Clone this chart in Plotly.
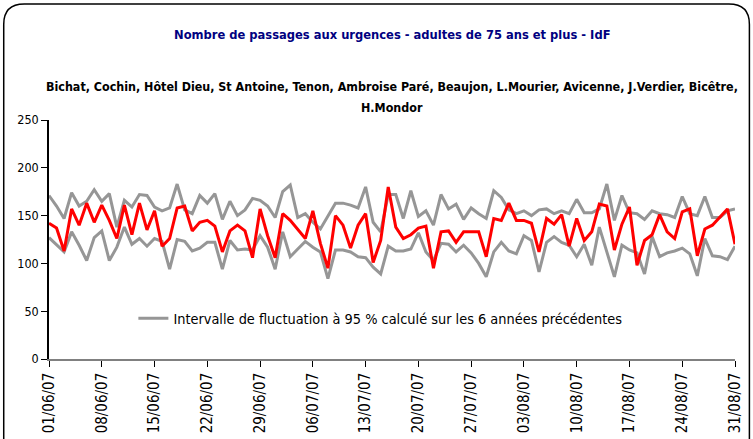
import plotly.graph_objects as go
import pandas as pd

# daily dates 01/06/2007 -> 31/08/2007
dates = pd.date_range("2007-06-01", "2007-08-31", freq="D")

passages = [142, 137, 113, 157, 140, 163, 143, 161, 145, 126,
            161, 130, 163, 135, 155, 118, 126, 158, 160, 134,
            143, 145, 139, 112, 134, 140, 134, 106, 157, 129,
            106, 152, 145, 135, 126, 155, 121, 95, 150, 140,
            116, 140, 152, 101, 124, 180, 138, 126, 130, 137,
            139, 95, 133, 134, 122, 133, 133, 133, 107, 147,
            145, 163, 145, 145, 142, 112, 147, 141, 151, 118,
            147, 124, 133, 162, 160, 114, 141, 159, 98, 124,
            130, 151, 133, 126, 154, 157, 108, 136, 140, 148,
            157, 120]

borne_haute = [171, 160, 147, 174, 160, 165, 177, 165, 173, 138,
               166, 159, 172, 171, 159, 155, 158, 183, 156, 152,
               171, 163, 173, 146, 165, 150, 156, 168, 166, 160,
               148, 175, 182, 148, 152, 143, 136, 150, 163, 163,
               161, 158, 180, 143, 133, 172, 172, 147, 176, 149,
               155, 140, 172, 157, 162, 146, 158, 152, 147, 176,
               169, 156, 152, 155, 150, 156, 157, 152, 155, 152,
               167, 153, 153, 157, 183, 145, 171, 153, 152, 146,
               155, 152, 151, 148, 170, 152, 150, 170, 148, 148,
               155, 157]

borne_basse = [127, 120, 112, 133, 119, 103, 127, 134, 103, 117,
               138, 120, 126, 118, 126, 123, 94, 125, 123, 113,
               116, 122, 122, 94, 124, 114, 115, 114, 129, 117,
               94, 133, 107, 115, 123, 117, 112, 84, 114, 114,
               112, 107, 106, 96, 89, 118, 113, 113, 115, 132,
               112, 103, 121, 120, 112, 119, 111, 100, 86, 112,
               122, 113, 110, 129, 124, 91, 122, 128, 122, 119,
               107, 120, 98, 138, 112, 86, 119, 114, 111, 89,
               128, 107, 111, 113, 116, 110, 87, 126, 108, 107,
               104, 118]

titre = "Nombre de passages aux urgences - adultes de 75 ans et plus - IdF"
sous_titre_1 = ("Bichat, Cochin, Hôtel Dieu, St Antoine, Tenon, Ambroise Paré, Beaujon, "
                "L.Mourier, Avicenne, J.Verdier, Bicêtre,")
sous_titre_2 = "H.Mondor"
legende = "Intervalle de fluctuation à 95 % calculé sur les 6 années précédentes"

FONT = "DejaVu Sans Condensed, Roboto, sans-serif"
GREY = "rgb(150,150,150)"

fig = go.Figure()
fig.add_trace(go.Scatter(x=dates, y=borne_haute, mode="lines", name=legende,
                         line=dict(color=GREY, width=3), legendgroup="ic"))
fig.add_trace(go.Scatter(x=dates, y=borne_basse, mode="lines", name=legende,
                         line=dict(color=GREY, width=3), legendgroup="ic",
                         showlegend=False))
fig.add_trace(go.Scatter(x=dates, y=passages, mode="lines", name="passages",
                         line=dict(color="#FF0000", width=3), showlegend=False))

# rounded frame around the whole chart
x0, x1, y0, y1 = -0.066, 1.021, -0.45, 1.485
rx, ry = 0.03, 0.085
frame = (f"M {x0+rx},{y1} L {x1-rx},{y1} Q {x1},{y1} {x1},{y1-ry} "
         f"L {x1},{y0+ry} Q {x1},{y0} {x1-rx},{y0} L {x0+rx},{y0} "
         f"Q {x0},{y0} {x0},{y0+ry} L {x0},{y1-ry} Q {x0},{y1} {x0+rx},{y1} Z")

sub_font = dict(size=12.4, color="black", family=FONT)

fig.update_layout(
    width=753, height=439,
    margin=dict(l=49, r=18, t=120, b=80),
    paper_bgcolor="white", plot_bgcolor="white",
    font=dict(family=FONT, size=14, color="black"),
    showlegend=True,
    legend=dict(x=0.123, y=0.17, xanchor="left", yanchor="middle",
                bgcolor="rgba(0,0,0,0)", font=dict(size=14.4)),
    shapes=[dict(type="path", xref="paper", yref="paper", path=frame,
                 line=dict(color="black", width=1.5), layer="below")],
    annotations=[
        dict(text="<b>" + titre + "</b>", xref="paper", yref="paper", x=0.5, y=1.356,
             xanchor="center", yanchor="middle", showarrow=False,
             font=dict(size=12.8, color="#000080", family=FONT)),
        dict(text="<b>" + sous_titre_1 + "</b>", xref="paper", yref="paper",
             x=0.5, y=1.142, xanchor="center", yanchor="middle",
             showarrow=False, font=sub_font),
        dict(text="<b>" + sous_titre_2 + "</b>", xref="paper", yref="paper",
             x=0.5, y=1.054, xanchor="center", yanchor="middle",
             showarrow=False, font=sub_font),
    ],
)

fig.update_xaxes(
    range=[dates[0], dates[-1]], automargin=False,
    tickmode="linear", tick0=dates[0], dtick=7 * 86400000,
    tickformat="%d/%m/%y", tickangle=-90,
    ticks="outside", ticklen=6, tickcolor="black",
    showline=True, linecolor="rgb(128,128,128)", linewidth=1.5,
    showgrid=False, zeroline=False,
    tickfont=dict(size=15),
)
fig.update_yaxes(
    range=[0, 250], dtick=50, automargin=False,
    ticks="outside", ticklen=6, tickcolor="black",
    showline=True, linecolor="black", linewidth=1.5,
    showgrid=False, zeroline=False,
    tickfont=dict(size=12.5),
)

# drop the page's default body margin so the figure sits at the window corner
fig.write_html("out.html", config={"displayModeBar": False},
               post_script="document.body.style.margin='0';")
